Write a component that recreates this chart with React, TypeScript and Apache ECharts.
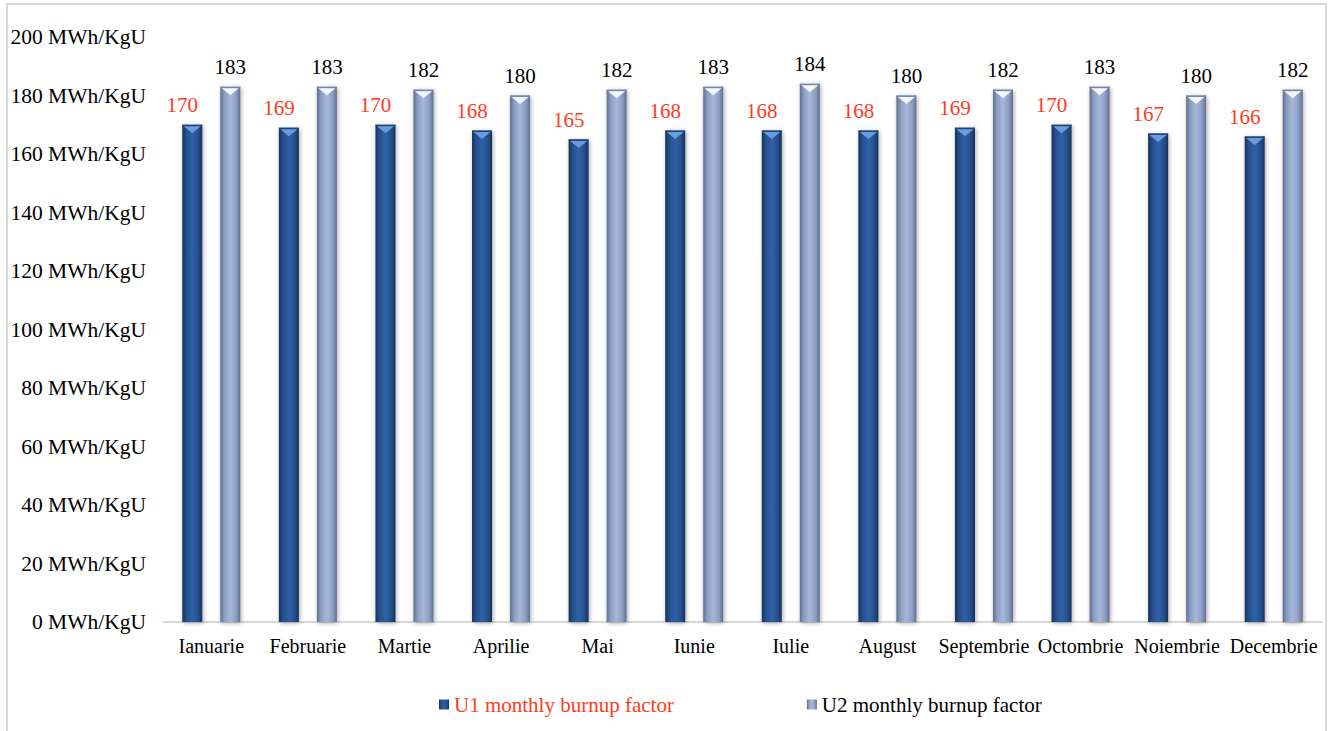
import React, { useEffect, useRef } from "react";
import * as echarts from "echarts";

const months = [
  "Ianuarie", "Februarie", "Martie", "Aprilie", "Mai", "Iunie",
  "Iulie", "August", "Septembrie", "Octombrie", "Noiembrie", "Decembrie",
];
const u1Values = [170, 169, 170, 168, 165, 168, 168, 168, 169, 170, 167, 166];
const u2Values = [183, 183, 182, 180, 182, 183, 184, 180, 182, 183, 180, 182];
const seriesNames = ["U1 monthly burnup factor", "U2 monthly burnup factor"];

const FONT = "'Liberation Serif', 'Times New Roman', serif";
const RED = "#ff3b1c";
const BAR_W = 20;
const HALF_SPAN = 19; // distance from category centre to each bar centre

const hGrad = (edge: string, mid: string, light: string) =>
  new echarts.graphic.LinearGradient(0, 0, 1, 0, [
    { offset: 0, color: edge },
    { offset: 0.2, color: mid },
    { offset: 0.5, color: light },
    { offset: 0.8, color: mid },
    { offset: 1, color: edge },
  ]);

// Bevelled cap drawn on top of each bar
const capSeries = (values: number[], dir: number, color: string, rim: string) => ({
  type: "custom",
  silent: true,
  z: 5,
  data: values.map((v, i) => [i, v]),
  renderItem: (params: any, api: any) => {
    const pt = api.coord([api.value(0), api.value(1)]);
    const cx = pt[0] + dir * HALF_SPAN;
    const x0 = cx - BAR_W / 2;
    const x1 = cx + BAR_W / 2;
    const y = pt[1];
    return {
      type: "group",
      children: [
        {
          type: "rect",
          shape: { x: x0, y: y, width: BAR_W, height: 1.5 },
          style: { fill: rim },
        },
        {
          type: "polygon",
          shape: { points: [[x0 + 1.5, y + 1.5], [x1 - 1.5, y + 1.5], [cx, y + 8.5]] },
          style: { fill: color },
        },
      ],
    };
  },
});

export default function App() {
  const ref = useRef<HTMLDivElement>(null);

  useEffect(() => {
    const chart = echarts.init(ref.current!, null, { renderer: "svg" });
    chart.setOption({
      animation: false,
      backgroundColor: "#ffffff",
      textStyle: { fontFamily: FONT },
      graphic: [
        {
          type: "rect",
          shape: { x: 7, y: 4, width: 1319, height: 760 },
          style: { fill: "none", stroke: "#d9d9d9", lineWidth: 2 },
          silent: true,
          z: -10,
        },
      ],
      legend: {
        left: 434,
        top: 689,
        itemWidth: 10,
        itemHeight: 10,
        itemGap: 133,
        icon: "rect",
        textStyle: { fontFamily: FONT, fontSize: 21, color: "#000", padding: [2, 0, 0, 0] },
        data: [
          { name: seriesNames[0], textStyle: { color: RED } },
          { name: seriesNames[1], textStyle: { color: "#000" } },
        ],
      },
      grid: { left: 163, right: 10, top: 37, bottom: 109 },
      xAxis: {
        type: "category",
        data: months,
        axisLine: { lineStyle: { color: "#d9d9d9", width: 2 } },
        axisTick: { show: false },
        axisLabel: { color: "#000", fontFamily: FONT, fontSize: 20, margin: 14, interval: 0 },
      },
      yAxis: {
        type: "value",
        min: 0,
        max: 200,
        interval: 20,
        axisLine: { show: false },
        axisTick: { show: false },
        splitLine: { show: false },
        axisLabel: {
          color: "#000",
          fontFamily: FONT,
          fontSize: 21.5,
          margin: 17,
          formatter: "{value} MWh/KgU",
        },
      },
      series: [
        {
          name: seriesNames[0],
          type: "bar",
          data: u1Values,
          barWidth: BAR_W,
          barGap: "90%",
          itemStyle: {
            color: hGrad("#16325a", "#264f8a", "#2f62a8"),
            shadowColor: "rgba(0,0,0,0.35)",
            shadowBlur: 4,
            shadowOffsetX: 1,
            shadowOffsetY: 1,
          },
          label: {
            show: true,
            position: "top",
            distance: 9,
            offset: [-10, 0],
            color: RED,
            fontFamily: FONT,
            fontSize: 21,
          },
        },
        {
          name: seriesNames[1],
          type: "bar",
          data: u2Values,
          barWidth: BAR_W,
          itemStyle: {
            color: hGrad("#5f6e8e", "#8a9cc0", "#a6b8da"),
            shadowColor: "rgba(0,0,0,0.35)",
            shadowBlur: 4,
            shadowOffsetX: 1,
            shadowOffsetY: 1,
          },
          label: {
            show: true,
            position: "top",
            distance: 9,
            color: "#000",
            fontFamily: FONT,
            fontSize: 21,
          },
        },
        capSeries(u1Values, -1, "#6a9be0", "#1f4274"),
        capSeries(u2Values, 1, "#f2f6fd", "#7686a6"),
      ],
    });
    return () => chart.dispose();
  }, []);

  return (
    <div
      ref={ref}
      style={{ position: "fixed", left: 0, top: 0, width: 1332, height: 731 }}
    />
  );
}
